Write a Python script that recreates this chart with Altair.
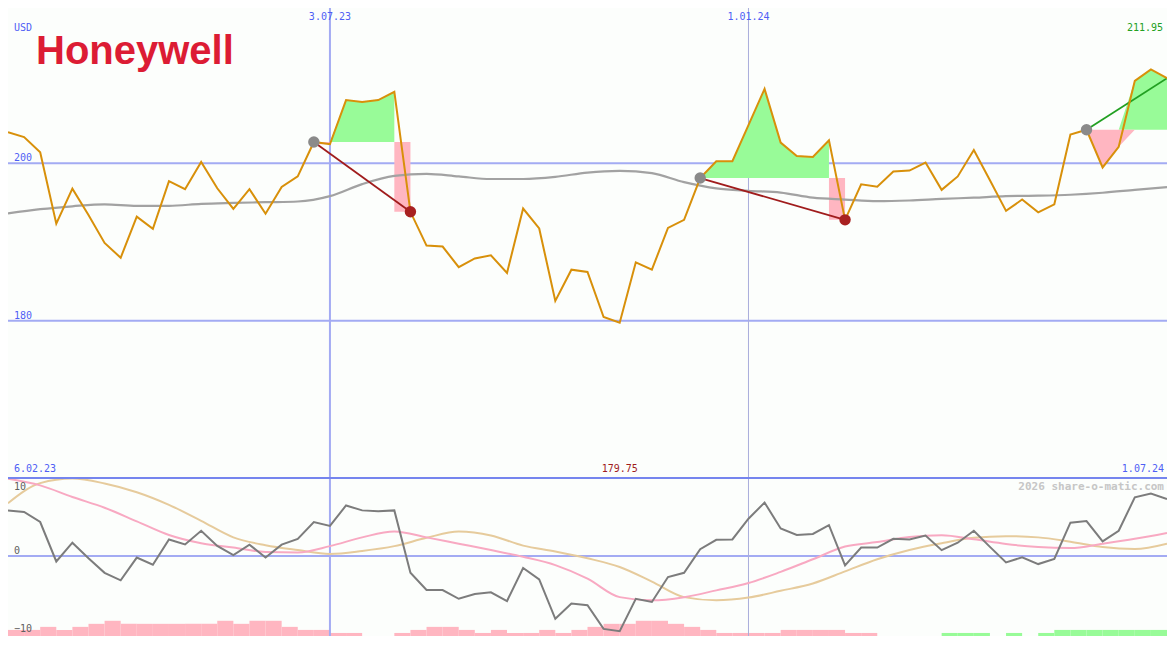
import altair as alt
import pandas as pd

# ---------------- data ----------------
start_date = "2023-02-13"          # first weekly close
price = [203.95, 203.34, 201.41, 192.33, 196.79, 193.44, 189.88, 188.00, 193.23, 191.68,
         197.73, 196.71, 200.18, 196.83, 194.21, 196.71, 193.60, 196.99, 198.34, 202.72,
         202.43, 208.04, 207.79, 208.04, 209.09, 193.84, 189.55, 189.42, 186.81, 187.91,
         188.32, 186.07, 194.26, 191.72, 182.52, 186.48, 186.20, 180.47, 179.75, 187.42,
         186.48, 191.80, 192.82, 198.13, 200.27, 200.27, 204.87, 209.47, 202.64, 200.92,
         200.80, 202.92, 192.82, 197.33, 197.03, 198.96, 199.08, 200.10, 196.63, 198.34,
         201.69, 197.85, 193.96, 195.40, 193.77, 194.79, 203.66, 204.27, 199.48, 202.11,
         210.49, 211.95, 210.82]
ma_weeks = list(range(0, 73, 2))
ma = [193.64, 194.17, 194.54, 194.79, 194.60, 194.60, 194.85, 194.97, 195.06, 195.15,
      195.83, 197.36, 198.40, 198.67, 198.34, 198.01, 198.01, 198.28, 198.83, 199.04,
      198.75, 197.61, 196.81, 196.50, 196.29, 195.64, 195.40, 195.19, 195.28, 195.48,
      195.64, 195.83, 195.89, 196.01, 196.26, 196.63, 196.99]
osc = [5.85, 5.65, 4.36, -0.70, 1.71, -0.29, -2.15, -3.11, -0.20, -1.12,
       2.12, 1.49, 3.24, 1.30, 0.12, 1.46, -0.20, 1.46, 2.20, 4.36,
       3.86, 6.48, 5.85, 5.73, 5.85, -2.15, -4.36, -4.36, -5.48, -4.86,
       -4.65, -5.77, -1.53, -2.99, -8.04, -6.10, -6.30, -9.34, -9.63, -5.48,
       -5.89, -2.69, -2.15, 0.87, 2.08, 2.12, 4.78, 6.85, 3.54, 2.70,
       2.83, 3.95, -1.20, 1.08, 1.08, 2.20, 2.12, 2.62, 0.75, 1.71,
       3.24, 1.17, -0.82, -0.16, -1.03, -0.37, 4.28, 4.48, 1.87, 3.24,
       7.52, 8.02, 7.31]
osc_fast = [9.89, 9.05, 7.56, 6.19, 4.45, 2.70, 1.64, 1.08, 0.52, 0.46,
            1.27, 2.39, 3.14, 2.39, 1.58, 0.77, -0.10, -1.16, -2.90, -5.27,
            -5.68, -5.27, -4.40, -3.46, -2.03, -0.41, 1.21, 1.79, 2.45, 2.66,
            2.14, 1.54, 1.15, 1.02, 1.58, 2.20, 2.95]
osc_slow = [6.77, 9.34, 9.93, 9.30, 8.18, 6.56, 4.51, 2.39, 1.39, 0.77,
            0.27, 0.65, 1.27, 2.33, 3.14, 2.64, 1.33, 0.59, -0.29, -1.41,
            -3.28, -5.27, -5.68, -5.33, -4.46, -3.52, -1.97, -0.41, 0.77, 1.64,
            2.33, 2.54, 2.39, 1.83, 1.15, 0.90, 1.58]
bar_levels = [-2, -2, -3, -2, -3, -4, -5, -4, -4, -4, -4, -4, -4, -5, -4, -5, -5, -3,
              -2, -2, -1, -1, 0, 0, -1, -2, -3, -3, -2, -1, -2, -1, -1, -2, -1, -2,
              -3, -4, -4, -5, -5, -4, -3, -2, -1, -1, -1, -1, -2, -2, -2, -2, -1, -1,
              0, 0, 0, 0, 1, 1, 1, 0, 1, 0, 1, 2, 2, 2, 2, 2, 2, 2]
entry_weeks = [19, 43, 67]
exit_weeks = [25, 52, None]
top_dates = ["3.07.23", "1.01.24"]
top_date_weeks = [20, 46]
range_labels = ["6.02.23", "1.07.24"]
price_grid = [200, 180]
osc_grid = [0, -10]
unit_label = "USD"
company = "Honeywell"
credit = "2026 share-o-matic.com"

# ---------------- layout ----------------
W, H1, H2 = 1159, 470, 158
H = H1 + H2
FONT = "DejaVu Sans Mono"
BLUE_TXT = "#4f5ff5"
GRID = "#a3abf3"

dates = pd.date_range(start_date, periods=len(price), freq="7D")


def dt(d):
    return alt.DateTime(year=d.year, month=d.month, date=d.day)


xs = alt.Scale(domain=[dt(dates[0]), dt(dates[-1])], nice=False, padding=0)
ys_top = alt.Scale(domain=[160, 219.75], range=[H1, 0], nice=False, zero=False)
ys_bot = alt.Scale(domain=[-10.25, 10], range=[H, H1], nice=False, zero=False)
X = alt.X("date:T", scale=xs, axis=None)
yT = lambda f: alt.Y(f, scale=ys_top, axis=None)
yB = lambda f: alt.Y(f, scale=ys_bot, axis=None)

price_df = pd.DataFrame({"date": dates, "price": price})
ma_df = pd.DataFrame({"date": dates[ma_weeks], "ma": ma})

green_rows, pink_rows, tline_rows, dot_rows = [], [], [], []
for t, (e, x) in enumerate(zip(entry_weeks, exit_weeks)):
    ref = price[e]
    closed = x is not None
    last = x if closed else len(price) - 1
    status = "closed" if closed else "open"
    for i in range(e, x if closed else len(price)):
        green_rows.append({"trade": t, "date": dates[i], "hi": max(price[i], ref), "ref": ref})
    for i in range(e, last + 1):
        pink_rows.append({"trade": t, "date": dates[i], "lo": min(price[i], ref),
                          "ref": ref, "status": status})
    col = "#a01c1c" if closed else "#22a022"
    tline_rows += [{"trade": t, "date": dates[e], "p": ref, "c": col},
                   {"trade": t, "date": dates[last], "p": price[last], "c": col}]
    dot_rows.append({"date": dates[e], "p": ref, "c": "#8a8a8a"})
    if closed:
        dot_rows.append({"date": dates[x], "p": price[x], "c": "#a82020"})

green_df = pd.DataFrame(green_rows)
pink_df = pd.DataFrame(pink_rows)
tline_df = pd.DataFrame(tline_rows)
dot_df = pd.DataFrame(dot_rows)

vline_df = pd.DataFrame({"date": dates[top_date_weeks], "label": top_dates,
                         "w": [2, 1], "c": [GRID, "#a9addb"]})


def txt(text, x, y, align="left", color=BLUE_TXT, size=10, **kw):
    return alt.Chart(pd.DataFrame({"t": [text]})).mark_text(
        align=align, baseline="middle", font=kw.pop("font", FONT), fontSize=size,
        color=color, **kw).encode(x=alt.value(x), y=alt.value(y), text="t:N")


# ---------------- price panel ----------------
grid_top = alt.Chart(pd.DataFrame({"level": price_grid})).mark_rule(
    color=GRID, strokeWidth=2).encode(y=yT("level:Q"))
grid_top_lbl = alt.Chart(pd.DataFrame({"level": price_grid})).mark_text(
    align="left", baseline="alphabetic", dy=-2, font=FONT, fontSize=10, color=BLUE_TXT
).encode(x=alt.value(6), y=yT("level:Q"), text="level:Q")

vrules = alt.Chart(vline_df).mark_rule().encode(
    x=X, strokeWidth=alt.StrokeWidth("w:Q", scale=None), color=alt.Color("c:N", scale=None))
vlabels = alt.Chart(vline_df).mark_text(
    align="center", baseline="middle", font=FONT, fontSize=10, color=BLUE_TXT
).encode(x=X, y=alt.value(9), text="label:N")

green = alt.Chart(green_df).mark_area(color="#98fb98", opacity=1).encode(
    x=X, y=yT("hi:Q"), y2="ref:Q", detail="trade:N")
pink_closed = alt.Chart(pink_df).transform_filter(alt.datum.status == "closed").mark_area(
    color="#ffb6c1", opacity=1, interpolate="step-before").encode(
    x=X, y=yT("lo:Q"), y2="ref:Q", detail="trade:N")
pink_open = alt.Chart(pink_df).transform_filter(alt.datum.status == "open").mark_area(
    color="#ffb6c1", opacity=1).encode(
    x=X, y=yT("lo:Q"), y2="ref:Q", detail="trade:N")

ma_line = alt.Chart(ma_df).mark_line(color="#a2a2a2", strokeWidth=2.2, interpolate="monotone").encode(
    x=X, y=yT("ma:Q"))
price_line = alt.Chart(price_df).mark_line(color="#d8900a", strokeWidth=2).encode(
    x=X, y=yT("price:Q"))
trade_lines = alt.Chart(tline_df).mark_line(strokeWidth=1.8).encode(
    x=X, y=yT("p:Q"), detail="trade:N", color=alt.Color("c:N", scale=None))
dots = alt.Chart(dot_df).mark_circle(size=130, opacity=1).encode(
    x=X, y=yT("p:Q"), color=alt.Color("c:N", scale=None))

imin = price.index(min(price))
min_lbl = alt.Chart(pd.DataFrame({"date": [dates[imin]], "t": [f"{min(price):.2f}"]})).mark_text(
    align="center", baseline="middle", font=FONT, fontSize=10, color="#a01c1c"
).encode(x=X, y=alt.value(H1 - 9), text="t:N")

# ---------------- indicator panel ----------------
base = -10.25
step = 0.39
bar_rows = []
for k, lv in enumerate(bar_levels):
    if lv == 0:
        continue
    bar_rows.append({"date": dates[k], "date2": dates[k + 1], "b": base,
                     "t": base + abs(lv) * step, "c": "#98fb98" if lv > 0 else "#ffb6c1"})
bar_df = pd.DataFrame(bar_rows)

bars = alt.Chart(bar_df).mark_rect().encode(
    x=X, x2="date2:T", y=yB("b:Q"), y2="t:Q", color=alt.Color("c:N", scale=None))
zero_rule = alt.Chart(pd.DataFrame({"v": [0]})).mark_rule(color=GRID, strokeWidth=2).encode(y=yB("v:Q"))
sep_rule = alt.Chart(pd.DataFrame({"v": [10]})).mark_rule(color="#7585ee", strokeWidth=2).encode(y=yB("v:Q"))
slow_line = alt.Chart(pd.DataFrame({"date": dates[ma_weeks], "v": osc_slow})).mark_line(
    color="#e6cb9c", strokeWidth=2, interpolate="monotone").encode(x=X, y=yB("v:Q"))
fast_line = alt.Chart(pd.DataFrame({"date": dates[ma_weeks], "v": osc_fast})).mark_line(
    color="#f8a9c2", strokeWidth=2, interpolate="monotone").encode(x=X, y=yB("v:Q"))
osc_line = alt.Chart(pd.DataFrame({"date": dates, "v": osc})).mark_line(
    color="#7c7c7c", strokeWidth=2).encode(x=X, y=yB("v:Q"))
osc_lbl = alt.Chart(pd.DataFrame({"v": osc_grid})).mark_text(
    align="left", baseline="alphabetic", dy=-2, font=FONT, fontSize=10, color="#606060"
).encode(x=alt.value(6), y=yB("v:Q"), text="v:Q")

chart = alt.layer(
    grid_top, bars, zero_rule, vrules, green, pink_closed, pink_open, ma_line,
    slow_line, fast_line, osc_line, sep_rule, trade_lines, price_line, dots,
    grid_top_lbl, vlabels, osc_lbl, min_lbl,
    txt(unit_label, 6, 20),
    txt(company, 28, 44, font="Liberation Sans", fontWeight="bold", size=40, color="#dc1c34"),
    txt(f"{max(price):.2f}", W - 4, 20, align="right", color="#22a022"),
    txt(range_labels[0], 6, H1 - 9),
    txt(range_labels[1], W - 3, H1 - 9, align="right"),
    txt("10", 6, H1 + 9, color="#606060"),
    txt(credit, W - 3, H1 + 9, align="right", color="#c6c6c6", size=11, fontWeight="bold"),
).resolve_scale(y="independent").properties(
    width=W, height=H, padding=0, background="#fcfefc",
    autosize=alt.AutoSizeParams(type="none", contains="padding"),
).configure_view(strokeWidth=0)

chart.save("out.html", embed_options={"renderer": "svg", "actions": False})
